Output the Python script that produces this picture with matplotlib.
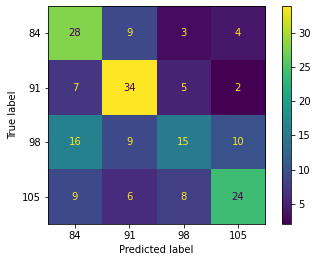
import numpy as np
import matplotlib
matplotlib.use("Agg")
import matplotlib.pyplot as plt

labels = ["84", "91", "98", "105"]
cm = np.array([
    [28, 9, 3, 4],
    [7, 34, 5, 2],
    [16, 9, 15, 10],
    [9, 6, 8, 24],
])

fig = plt.figure(figsize=(319/72, 262/72), dpi=72)
ax = fig.add_axes([0.150, 0.145, 0.681, 0.832])
cax = fig.add_axes([0.884, 0.145, 0.028, 0.832])

cmap = plt.get_cmap("viridis")
im = ax.imshow(cm, interpolation="nearest", cmap=cmap)
lo, hi = cm.min(), cm.max()
thresh = (hi + lo) / 2.0
for i in range(cm.shape[0]):
    for j in range(cm.shape[1]):
        col = cmap(256) if cm[i, j] < thresh else cmap(0)
        ax.text(j, i, str(cm[i, j]), ha="center", va="center", color=col)

fig.colorbar(im, cax=cax)
ax.set_xticks(range(len(labels)), labels)
ax.set_yticks(range(len(labels)), labels)
ax.set_xlabel("Predicted label")
ax.set_ylabel("True label")
ax.set_aspect("auto")

fig.savefig("out.png", dpi=72, facecolor="white")
